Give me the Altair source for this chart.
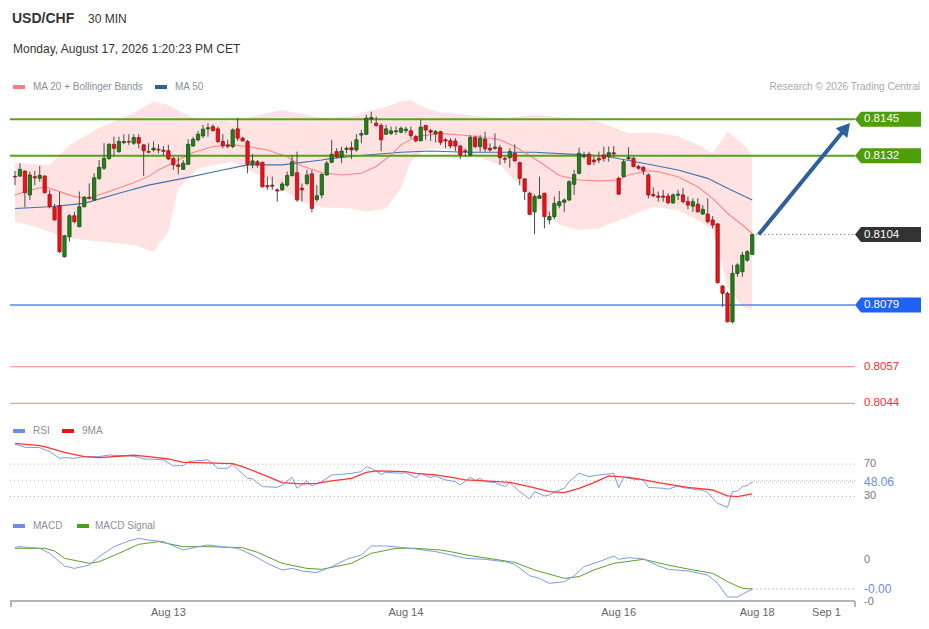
import altair as alt
import pandas as pd

FONT = "Liberation Sans"

# ---------------- 30-min candles, USD/CHF ----------------
opens = [
0.81247,0.81248,0.81266,0.81181,0.81246,0.81240,0.81248,0.81183,0.81137,0.81143,
0.80961,0.81032,0.81107,0.81068,0.81139,0.81173,0.81163,0.81240,0.81276,0.81311,
0.81361,0.81335,0.81367,0.81371,0.81365,0.81385,0.81359,0.81335,0.81341,0.81343,
0.81340,0.81338,0.81311,0.81288,0.81272,0.81290,0.81355,0.81377,0.81391,0.81416,
0.81424,0.81416,0.81371,0.81359,0.81353,0.81416,0.81383,0.81371,0.81290,0.81299,
0.81297,0.81214,0.81216,0.81199,0.81199,0.81216,0.81250,0.81260,0.81205,0.81222,
0.81256,0.81165,0.81181,0.81252,0.81297,0.81335,0.81317,0.81343,0.81349,0.81341,
0.81394,0.81397,0.81451,0.81436,0.81428,0.81397,0.81400,0.81406,0.81404,0.81410,
0.81409,0.81388,0.81374,0.81428,0.81410,0.81398,0.81406,0.81377,0.81374,0.81373,
0.81355,0.81338,0.81323,0.81385,0.81353,0.81380,0.81347,0.81347,0.81349,0.81311,
0.81314,0.81329,0.81296,0.81238,0.81187,0.81121,0.81169,0.81187,0.81092,0.81104,
0.81143,0.81155,0.81163,0.81219,0.81258,0.81317,0.81326,0.81305,0.81311,0.81323,
0.81317,0.81331,0.81240,0.81246,0.81310,0.81311,0.81282,0.81279,0.81252,0.81183,
0.81177,0.81177,0.81177,0.81153,0.81180,0.81181,0.81157,0.81141,0.81148,0.81113,
0.81113,0.81092,0.81078,0.80857,0.80831,0.80730,0.80902,0.80908,0.80949,0.80970]
highs = [
0.81266,0.81294,0.81268,0.81264,0.81266,0.81284,0.81252,0.81199,0.81149,0.81193,
0.81038,0.81113,0.81121,0.81193,0.81177,0.81222,0.81258,0.81305,0.81365,0.81365,
0.81388,0.81388,0.81397,0.81397,0.81397,0.81397,0.81361,0.81365,0.81371,0.81362,
0.81355,0.81359,0.81317,0.81317,0.81305,0.81379,0.81388,0.81409,0.81430,0.81436,
0.81432,0.81424,0.81397,0.81377,0.81418,0.81456,0.81388,0.81377,0.81326,0.81305,
0.81299,0.81246,0.81246,0.81205,0.81228,0.81264,0.81323,0.81335,0.81222,0.81270,
0.81270,0.81216,0.81258,0.81302,0.81377,0.81347,0.81353,0.81353,0.81371,0.81397,
0.81412,0.81466,0.81477,0.81460,0.81436,0.81430,0.81424,0.81424,0.81424,0.81424,
0.81424,0.81394,0.81448,0.81430,0.81416,0.81412,0.81409,0.81383,0.81383,0.81383,
0.81359,0.81347,0.81394,0.81392,0.81394,0.81406,0.81365,0.81400,0.81359,0.81317,
0.81347,0.81361,0.81299,0.81240,0.81193,0.81183,0.81246,0.81189,0.81121,0.81175,
0.81195,0.81169,0.81234,0.81270,0.81349,0.81335,0.81335,0.81317,0.81335,0.81353,
0.81353,0.81355,0.81246,0.81308,0.81351,0.81317,0.81288,0.81284,0.81258,0.81208,
0.81193,0.81199,0.81187,0.81187,0.81199,0.81205,0.81175,0.81169,0.81169,0.81145,
0.81169,0.81106,0.81080,0.80860,0.80837,0.80932,0.80938,0.80979,0.80985,0.81044]
lows = [
0.81216,0.81246,0.81137,0.81163,0.81216,0.81228,0.81187,0.81133,0.81090,0.80975,
0.80959,0.81015,0.81080,0.81066,0.81137,0.81165,0.81160,0.81234,0.81270,0.81305,
0.81317,0.81331,0.81361,0.81359,0.81359,0.81347,0.81248,0.81329,0.81335,0.81329,
0.81323,0.81305,0.81270,0.81254,0.81270,0.81288,0.81353,0.81371,0.81383,0.81388,
0.81406,0.81365,0.81347,0.81347,0.81347,0.81373,0.81371,0.81258,0.81276,0.81278,
0.81207,0.81199,0.81199,0.81157,0.81195,0.81210,0.81246,0.81157,0.81157,0.81216,
0.81119,0.81157,0.81169,0.81250,0.81294,0.81311,0.81294,0.81329,0.81309,0.81335,
0.81365,0.81394,0.81436,0.81424,0.81337,0.81394,0.81394,0.81394,0.81400,0.81400,
0.81383,0.81368,0.81371,0.81377,0.81373,0.81368,0.81359,0.81347,0.81347,0.81337,
0.81309,0.81317,0.81317,0.81347,0.81335,0.81335,0.81335,0.81341,0.81288,0.81294,
0.81278,0.81299,0.81216,0.81163,0.81110,0.81041,0.81167,0.81062,0.81076,0.81095,
0.81133,0.81121,0.81159,0.81181,0.81254,0.81311,0.81288,0.81288,0.81294,0.81299,
0.81299,0.81317,0.81181,0.81244,0.81305,0.81279,0.81270,0.81252,0.81169,0.81173,
0.81157,0.81157,0.81149,0.81149,0.81163,0.81151,0.81130,0.81121,0.81118,0.81110,
0.81080,0.81062,0.80866,0.80783,0.80728,0.80724,0.80890,0.80890,0.80943,0.80967]
closes = [
0.81245,0.81272,0.81189,0.81252,0.81242,0.81251,0.81189,0.81139,0.81092,0.80979,
0.81036,0.81107,0.81086,0.81139,0.81173,0.81169,0.81242,0.81279,0.81311,0.81361,
0.81347,0.81371,0.81371,0.81369,0.81385,0.81365,0.81338,0.81333,0.81347,0.81341,
0.81336,0.81309,0.81288,0.81282,0.81294,0.81361,0.81379,0.81397,0.81415,0.81420,
0.81410,0.81371,0.81356,0.81354,0.81412,0.81383,0.81373,0.81290,0.81302,0.81288,
0.81210,0.81210,0.81212,0.81195,0.81220,0.81250,0.81299,0.81163,0.81199,0.81252,
0.81133,0.81178,0.81254,0.81294,0.81326,0.81317,0.81337,0.81347,0.81341,0.81377,
0.81399,0.81454,0.81456,0.81428,0.81377,0.81416,0.81409,0.81409,0.81418,0.81415,
0.81392,0.81373,0.81422,0.81412,0.81404,0.81406,0.81368,0.81373,0.81355,0.81355,
0.81323,0.81335,0.81386,0.81353,0.81383,0.81345,0.81341,0.81351,0.81314,0.81308,
0.81335,0.81302,0.81240,0.81193,0.81112,0.81175,0.81178,0.81104,0.81104,0.81151,
0.81157,0.81163,0.81228,0.81254,0.81329,0.81323,0.81290,0.81299,0.81305,0.81311,
0.81331,0.81327,0.81184,0.81299,0.81314,0.81282,0.81276,0.81267,0.81181,0.81178,
0.81173,0.81173,0.81153,0.81181,0.81184,0.81157,0.81145,0.81157,0.81121,0.81130,
0.81086,0.81074,0.80869,0.80831,0.80730,0.80902,0.80932,0.80967,0.80979,0.81040]

# ---------------- overlays (read at sample candles) ----------------
ma20_idx = [0,2,6,8,12,15,19,24,27,29,33,36,40,44,47,51,55,58,62,66,70,73,76,78,81,86,90,94,98,101,
            106,110,114,118,122,124,128,130,134,138,141,144,147,149]
ma20_val = [0.81181,0.81193,0.81210,0.81199,0.81175,0.81169,0.81193,0.81224,0.81247,0.81270,
            0.81305,0.81332,0.81353,0.81359,0.81353,0.81341,0.81317,0.81284,0.81261,0.81252,
            0.81258,0.81282,0.81323,0.81359,0.81388,0.81400,0.81394,0.81388,0.81377,0.81353,
            0.81299,0.81250,0.81234,0.81231,0.81234,0.81252,0.81267,0.81264,0.81246,0.81210,
            0.81169,0.81116,0.81074,0.81044]
ma50_idx = [0,7,14,21,27,34,41,47,54,62,64,71,78,84,91,98,105,112,118,120,127,134,140,144,149]
ma50_val = [0.81133,0.81139,0.81151,0.81187,0.81216,0.81240,0.81266,0.81288,0.81288,0.81305,
            0.81311,0.81323,0.81333,0.81337,0.81333,0.81333,0.81333,0.81326,0.81321,0.81317,
            0.81294,0.81270,0.81240,0.81205,0.81163]
band_idx = [0,4,7,11,17,24,28,31,33,37,44,47,51,54,58,62,68,71,75,78,80,83,86,91,98,102,105,110,
            114,118,124,129,134,138,141,144,147,149]
band_upper = [0.81295,0.81290,0.81288,0.81359,0.81419,0.81473,0.81513,0.81501,0.81480,0.81448,
              0.81442,0.81455,0.81472,0.81483,0.81470,0.81455,0.81460,0.81477,0.81495,0.81513,
              0.81519,0.81489,0.81475,0.81466,0.81454,0.81460,0.81466,0.81458,0.81450,0.81442,
              0.81400,0.81403,0.81390,0.81360,0.81329,0.81406,0.81365,0.81323]
band_lower = [0.81086,0.81068,0.81050,0.81027,0.81015,0.81003,0.80979,0.81050,0.81205,0.81276,
              0.81299,0.81270,0.81240,0.81200,0.81157,0.81136,0.81133,0.81121,0.81133,0.81205,
              0.81299,0.81343,0.81347,0.81333,0.81288,0.81216,0.81145,0.81074,0.81056,0.81062,
              0.81104,0.81139,0.81127,0.81092,0.81056,0.80854,0.80783,0.80771]

# key levels
res_levels = [0.8145, 0.8132]
pivot_level = [0.8079]
sup_levels = [0.8057, 0.8044]
last_price = 0.8104
arrow_from = (150.3, 0.8104)
arrow_to = (167.9, 0.81419)

# ---------------- RSI ----------------
rsi_idx = [0,2,5,7,9,10,12,14,17,19,21,24,26,28,30,32,34,35,37,39,41,43,44,45,47,48,50,53,54,56,
           57,59,60,62,64,66,68,70,71,72,74,75,78,79,81,82,84,85,87,89,90,92,93,94,95,97,99,100,102,104,
           105,107,108,110,111,112,114,116,118,121,122,123,125,127,128,131,132,134,135,136,
           138,139,140,142,144,145,146,147,148,149]
rsi_val = [95.0,90.9,90.5,85.5,77.2,78.1,77.2,79.3,79.3,81.4,80.5,80.1,76.4,76.0,75.2,67.8,68.2,73.1,74.4,75.2,
           64.9,64.9,69.8,63.6,52.5,51.7,42.2,41.3,44.2,53.7,40.1,49.2,43.0,48.3,56.6,57.4,58.7,60.7,66.9,64.9,
           57.4,59.9,58.7,59.5,53.3,58.7,53.3,55.4,50.4,48.3,44.2,53.7,49.6,52.5,48.3,47.1,42.2,47.1,36.0,26.9,
           36.0,30.6,31.8,38.0,40.1,48.3,58.7,54.5,56.6,58.7,40.9,53.7,51.2,50.4,41.3,40.1,38.9,43.0,40.9,40.1,
           38.0,38.0,34.7,21.5,16.6,36.0,36.8,42.2,43.4,48.06]
rsi_ma_idx = [0,5,6,10,14,17,24,27,31,34,37,44,46,50,54,58,61,64,68,71,73,79,81,85,88,91,95,100,104,108,
              111,114,117,120,124,126,130,134,136,141,144,146,149]
rsi_ma_val = [95.8,92.9,91.7,84.7,79.3,78.1,81.0,79.3,76.4,72.3,71.9,70.6,66.9,57.4,47.1,45.5,46.3,49.2,52.5,59.9,
              61.6,60.7,58.7,56.6,54.0,50.4,49.2,47.5,42.2,36.0,34.7,40.1,47.1,55.4,53.7,51.7,47.1,43.0,41.3,38.0,
              30.6,29.8,33.1]
rsi_guides = [70, 50, 30]
rsi_guide_labels = ["70", "", "30"]
rsi_last = 48.06

# ---------------- MACD (units of 1e-4) ----------------
macd_idx = [0,1,5,7,10,12,15,17,20,23,25,27,30,34,37,39,43,45,48,51,54,56,58,61,64,67,70,72,75,78,
            81,85,88,91,95,99,101,104,106,108,111,113,115,118,121,122,124,127,130,132,136,140,142,144,146,149]
macd_val = [1.71,1.80,1.58,0.90,-0.81,-1.13,-0.68,0.45,1.80,2.57,2.93,2.70,2.48,1.35,1.80,2.03,1.71,1.58,0.68,-0.45,
            -1.35,-1.13,-1.49,-1.71,-0.90,0.09,0.68,1.89,1.89,1.71,1.49,1.13,0.70,0.23,0.09,-0.23,-0.59,-2.12,-2.48,-3.15,
            -2.93,-2.16,-0.90,-0.23,0.54,0.09,0.32,0.14,-0.77,-1.26,-1.49,-2.03,-3.15,-5.0,-5.0,-3.92]
sig_idx = [0,6,8,10,15,17,21,25,29,34,39,46,49,54,59,62,68,72,77,81,86,88,92,101,105,111,114,117,121,127,
           132,136,141,144,147,149]
sig_val = [1.58,1.58,1.22,0.23,-0.45,-0.23,0.90,2.12,2.48,1.80,1.80,1.67,1.04,-0.45,-1.13,-1.26,-0.45,0.90,1.58,1.58,
           1.35,1.13,0.59,-0.32,-1.35,-2.48,-2.25,-1.35,-0.45,0.09,-0.68,-1.22,-1.80,-2.93,-3.83,-3.92]
macd_last = -3.92
macd_ticks = [0, -5.7]
macd_tick_labels = ["0", "-0"]

# x-axis labels (candle index of each date boundary)
xtick_idx = [31, 79, 122, 150, 164]
xtick_lbl = ["Aug 13", "Aug 14", "Aug 16", "Aug 18", "Sep 1"]

# ---------------- layout / scales ----------------
W, H = 913, 613
STEP = 4.948          # px per candle
X0 = 7.0              # px of first candle
xs = alt.Scale(domain=[-X0 / STEP, (W - X0) / STEP], nice=False, zero=False, padding=0)
PPU = 28119.0         # px per price unit
ps = alt.Scale(domain=[0.8145 - (H - 111.3) / PPU, 0.8145 + 111.3 / PPU], nice=False, zero=False, padding=0)
RPU = 0.8075
R50 = 472.3
rs = alt.Scale(domain=[50 - (H - R50) / RPU, 50 + R50 / RPU], nice=False, zero=False, padding=0)
MPU = 7.4
M0 = 552.0
ms = alt.Scale(domain=[-(H - M0) / MPU, M0 / MPU], nice=False, zero=False, padding=0)

LX1, LX2 = 2, 847     # plot area left / right edge (px)

GREEN_BODY, GREEN_EDGE = "#23801a", "#165010"
RED_BODY, RED_EDGE = "#e8141c", "#a40f14"

def X(f="i"):
    return alt.X(f"{f}:Q", scale=xs, axis=None)

def Yp(f):
    return alt.Y(f"{f}:Q", scale=ps, axis=None)

def Yr(f):
    return alt.Y(f"{f}:Q", scale=rs, axis=None)

def Ym(f):
    return alt.Y(f"{f}:Q", scale=ms, axis=None)

def txt(s, x, y, size=11, color="#888", weight="normal", align="left"):
    return alt.Chart(pd.DataFrame({"t": [s]})).mark_text(
        align=align, baseline="middle", fontSize=size, color=color, fontWeight=weight, font=FONT
    ).encode(x=alt.value(x), y=alt.value(y), text="t:N")

def swatch(x, y, color, w=12, h=4):
    return alt.Chart(pd.DataFrame({"a": [0]})).mark_rect(color=color).encode(
        x=alt.value(x), x2=alt.value(x + w), y=alt.value(y - h / 2), y2=alt.value(y + h / 2))

candles = pd.DataFrame({"i": list(range(len(opens))), "o": opens, "h": highs, "l": lows, "c": closes})
band = pd.DataFrame({"i": band_idx, "up": band_upper, "lo": band_lower})
ma20 = pd.DataFrame({"i": ma20_idx, "v": ma20_val})
ma50 = pd.DataFrame({"i": ma50_idx, "v": ma50_val})

layers = []

# Bollinger band + MAs
layers.append(alt.Chart(band).mark_area(color="#ffe3e3", opacity=1).encode(x=X(), y=Yp("up"), y2=alt.Y2("lo:Q")))
layers.append(alt.Chart(ma50).mark_line(color="#4470b0", strokeWidth=1.1).encode(x=X(), y=Yp("v")))
layers.append(alt.Chart(ma20).mark_line(color="#ff8585", strokeWidth=1.1).encode(x=X(), y=Yp("v")))

# Key levels
layers.append(alt.Chart(pd.DataFrame({"v": res_levels})).mark_rule(color="#55a318", strokeWidth=2).encode(
    x=alt.value(LX1), x2=alt.value(LX2), y=Yp("v")))
layers.append(alt.Chart(pd.DataFrame({"v": pivot_level})).mark_rule(color="#5a86ee", strokeWidth=1.5).encode(
    x=alt.value(LX1), x2=alt.value(LX2), y=Yp("v")))
layers.append(alt.Chart(pd.DataFrame({"v": sup_levels})).mark_rule(color="#ff8080", strokeWidth=1).encode(
    x=alt.value(LX1), x2=alt.value(LX2), y=Yp("v")))

# Candles
up = "datum.c >= datum.o"
layers.append(alt.Chart(candles).mark_rule(color="#4a4a4a", strokeWidth=1).encode(
    x=X(), y=Yp("l"), y2=alt.Y2("h:Q")))
layers.append(alt.Chart(candles).mark_bar(size=3.3, strokeWidth=0.8).encode(
    x=X(), y=Yp("o"), y2=alt.Y2("c:Q"),
    color=alt.condition(up, alt.value(GREEN_BODY), alt.value(RED_BODY)),
    stroke=alt.condition(up, alt.value(GREEN_EDGE), alt.value(RED_EDGE))))

# last price dotted
layers.append(alt.Chart(pd.DataFrame({"i": [149], "v": [last_price]})).mark_rule(
    color="#555", strokeDash=[1, 3], strokeWidth=1).encode(x=X(), x2=alt.value(LX2), y=Yp("v")))

# Arrow
arr = pd.DataFrame({"i": [arrow_from[0]], "v": [arrow_from[1]], "i2": [arrow_to[0]], "v2": [arrow_to[1]]})
layers.append(alt.Chart(arr).mark_rule(color="#2f5f9f", strokeWidth=4).encode(
    x=X(), y=Yp("v"), x2=alt.X2("i2:Q"), y2=alt.Y2("v2:Q")))
layers.append(alt.Chart(pd.DataFrame({"i": [arrow_to[0]], "v": [arrow_to[1]]})).mark_point(
    shape="triangle-up", size=230, filled=True, opacity=1, angle=40, color="#2f5f9f").encode(x=X(), y=Yp("v")))

# Price tags
TAG = "M 0 0 L 6 -7.5 L 66 -7.5 L 66 7.5 L 6 7.5 Z"
tags = pd.DataFrame({
    "v": [res_levels[0], res_levels[1], last_price, pivot_level[0]],
    "lbl": ["0.8145", "0.8132", "0.8104", "0.8079"],
    "kind": ["res", "res", "last", "pivot"],
})
layers.append(alt.Chart(tags).mark_point(shape=TAG, size=4, filled=True, opacity=1).encode(
    x=alt.value(LX2), y=Yp("v"),
    color=alt.Color("kind:N", scale=alt.Scale(domain=["res", "last", "pivot"],
                                              range=["#4e9d0a", "#333333", "#1f62f2"]), legend=None)))
layers.append(alt.Chart(tags).mark_text(align="left", baseline="middle", fontSize=11.5, color="white", font=FONT).encode(
    x=alt.value(856), y=Yp("v"), text="lbl:N"))
layers.append(alt.Chart(pd.DataFrame({"v": sup_levels, "lbl": ["0.8057", "0.8044"]})).mark_text(
    align="left", baseline="middle", fontSize=11.5, color="#ff2a2a", font=FONT).encode(
    x=alt.value(856), y=Yp("v"), text="lbl:N"))

# ---------------- RSI panel ----------------
layers.append(alt.Chart(pd.DataFrame({"v": rsi_guides})).mark_rule(color="#aaa", strokeDash=[1, 3]).encode(
    x=alt.value(LX1), x2=alt.value(LX2), y=Yr("v")))
layers.append(alt.Chart(pd.DataFrame({"v": rsi_guides, "lbl": rsi_guide_labels})).mark_text(
    align="left", baseline="middle", fontSize=11, color="#777", font=FONT).encode(
    x=alt.value(856), y=Yr("v"), text="lbl:N"))
layers.append(alt.Chart(pd.DataFrame({"i": rsi_idx, "v": rsi_val})).mark_line(color="#7c9ce8", strokeWidth=1).encode(
    x=X(), y=Yr("v")))
layers.append(alt.Chart(pd.DataFrame({"i": rsi_ma_idx, "v": rsi_ma_val})).mark_line(color="#ff3535", strokeWidth=1.3).encode(
    x=X(), y=Yr("v")))
layers.append(alt.Chart(pd.DataFrame({"i": [149], "v": [rsi_last]})).mark_rule(
    color="#7c9ce8", strokeDash=[1, 3]).encode(x=X(), x2=alt.value(LX2), y=Yr("v")))
layers.append(alt.Chart(pd.DataFrame({"v": [rsi_last], "lbl": ["48.06"]})).mark_text(
    align="left", baseline="middle", fontSize=12, color="#6a8de6", font=FONT).encode(
    x=alt.value(856), y=Yr("v"), text="lbl:N"))

# ---------------- MACD panel ----------------
layers.append(alt.Chart(pd.DataFrame({"i": sig_idx, "v": sig_val})).mark_line(color="#5aa02c", strokeWidth=1).encode(
    x=X(), y=Ym("v")))
layers.append(alt.Chart(pd.DataFrame({"i": macd_idx, "v": macd_val})).mark_line(color="#7c9ce8", strokeWidth=1).encode(
    x=X(), y=Ym("v")))
layers.append(alt.Chart(pd.DataFrame({"i": [149], "v": [macd_last]})).mark_rule(
    color="#7c9ce8", strokeDash=[1, 3]).encode(x=X(), x2=alt.value(LX2), y=Ym("v")))
layers.append(alt.Chart(pd.DataFrame({"v": macd_ticks, "lbl": macd_tick_labels})).mark_text(
    align="left", baseline="middle", fontSize=11, color="#777", font=FONT).encode(
    x=alt.value(856), y=Ym("v"), text="lbl:N"))
layers.append(alt.Chart(pd.DataFrame({"v": [macd_last], "lbl": ["-0.00"]})).mark_text(
    align="left", baseline="middle", fontSize=12, color="#6a8de6", font=FONT).encode(
    x=alt.value(856), y=Ym("v"), text="lbl:N"))

# ---------------- time axis ----------------
axis_df = pd.DataFrame({"a": [0]})
layers.append(alt.Chart(axis_df).mark_rule(color="#b5b5b5", strokeWidth=2).encode(
    x=alt.value(LX1), x2=alt.value(LX2), y=alt.value(593)))
layers.append(alt.Chart(pd.DataFrame({"px": [LX1 + 1, LX2]})).mark_rule(color="#b5b5b5", strokeWidth=2).encode(
    x=alt.X("px:Q", scale=None), y=alt.value(593), y2=alt.value(599)))
layers.append(alt.Chart(pd.DataFrame({"i": xtick_idx, "t": xtick_lbl})).mark_text(
    align="center", baseline="middle", fontSize=11, color="#666", font=FONT).encode(
    x=X(), y=alt.value(604.5), text="t:N"))

# ---------------- header & legends ----------------
LEG = "#8a8f99"
layers += [
    txt("USD/CHF", 4, 11, size=14, color="#333", weight="bold"),
    txt("30 MIN", 80, 11, size=12, color="#333"),
    txt("Monday, August 17, 2026 1:20:23 PM CET", 5, 41, size=12, color="#333"),
    swatch(5, 79, "#ff7b7b"), txt("MA 20 + Bollinger Bands", 25, 79, size=10, color=LEG),
    swatch(147, 79, "#2f5f9f"), txt("MA 50", 167, 79, size=10, color=LEG),
    txt("Research \u00a9 2026 Trading Central", 912, 79, size=10.1, color="#aaaaaa", align="right"),
    swatch(5, 423, "#6b8ee8"), txt("RSI", 25, 423, size=10, color=LEG),
    swatch(54, 423, "#ee1111"), txt("9MA", 74, 423, size=10, color=LEG),
    swatch(5, 518, "#6b8ee8"), txt("MACD", 25, 518, size=10, color=LEG),
    swatch(69, 518, "#4a9e1a"), txt("MACD Signal", 87, 518, size=10, color=LEG),
]

chart = alt.layer(*layers).resolve_scale(y="independent").properties(
    width=W, height=H, padding=0, autosize=alt.AutoSizeParams(type="none")
).configure_view(stroke=None)

chart.save("out.html", embed_options={"renderer": "svg", "actions": False})
